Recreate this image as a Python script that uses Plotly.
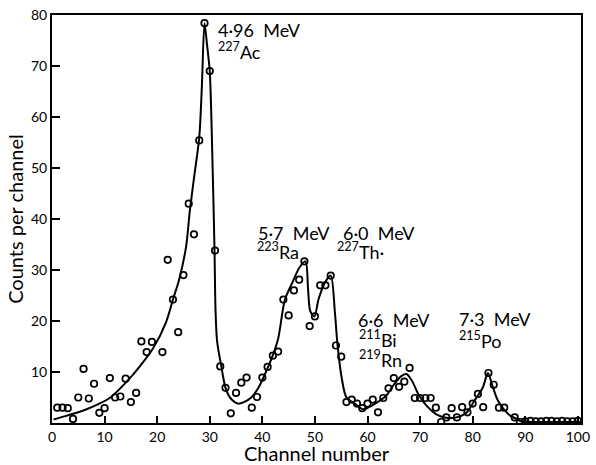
import plotly.graph_objects as go

# measured points (channel, counts per channel)
channels = [1, 2, 3, 4, 5, 6, 7, 8, 9, 10, 11, 12, 13, 14, 15, 16, 17, 18, 19, 21,
            22, 23, 24, 25, 26, 27, 28, 29, 30, 31, 32, 33, 34, 35, 36, 37, 38, 39, 40,
            41, 42, 43, 44, 45, 46, 47, 48, 49, 50, 51, 52, 53, 54, 55, 56, 57, 58, 59,
            60, 61, 62, 63, 64, 65, 66, 67, 68, 69, 70, 71, 72, 73, 74, 75, 76, 77, 78,
            79, 80, 81, 82, 83, 84, 85, 86, 88, 89, 90, 91, 92, 93, 94, 95, 96, 97, 98,
            99, 100]
counts = [3.0, 3.0, 2.9, 0.8, 5.0, 10.6, 4.8, 7.7, 2.0, 2.9, 8.8, 5.0, 5.2, 8.7, 4.1, 5.9,
          16.0, 13.9, 15.9, 13.9, 32.0, 24.2, 17.8, 29.0, 43.0, 37.0, 55.4, 78.4, 69.0,
          33.8, 11.1, 6.9, 1.9, 5.9, 7.9, 8.9, 3.0, 5.1, 8.9, 11.0, 13.2, 14.0, 24.2, 21.1,
          26.0, 28.1, 31.7, 19.0, 20.9, 27.0, 27.0, 28.9, 15.2, 13.0, 4.1, 4.6, 3.8, 2.9,
          3.8, 4.6, 2.1, 4.9, 6.8, 8.8, 7.1, 8.1, 10.8, 4.9, 4.9, 4.9, 4.9, 3.0, 0.2, 1.1,
          2.9, 1.1, 3.1, 2.1, 3.8, 5.7, 3.1, 9.8, 7.5, 3.0, 3.0, 1.1, 0.2, 0.3, 0.4, 0.3,
          0.3, 0.4, 0.4, 0.3, 0.4, 0.3, 0.3, 0.4, 0.7]

# fitted curve
curve_x = [0.3, 3.0, 6.1, 9.0, 11.1, 14.3, 16.7, 19.2, 21.7, 23.0, 24.2, 25.5, 26.2, 27.0,
           28.0, 28.5, 29.0, 29.5, 30.0, 30.5, 30.9, 31.1, 31.4, 32.2, 33.0, 34.0, 35.4,
           36.5, 37.9, 39.2, 40.2, 42.0, 43.0, 44.3, 45.7, 47.0, 48.2, 48.7, 49.1, 49.9,
           50.7, 51.9, 53.0, 53.8, 54.3, 55.1, 56.0, 57.6, 59.1, 60.1, 61.3, 63.5, 65.0,
           66.3, 67.4, 68.5, 69.7, 71.3, 73.1, 74.7, 76.9, 78.7, 80.3, 81.9, 82.9, 83.7,
           84.7, 85.9, 87.2, 88.4, 89.3, 95.0, 100.6]
curve_y = [0.7, 1.5, 2.5, 3.8, 5.0, 8.2, 11.1, 14.6, 19.8, 24.2, 28.2, 34.6, 41.5, 48.0,
           56.0, 66.0, 78.4, 74.0, 69.0, 52.0, 34.0, 22.0, 16.0, 11.1, 6.9, 4.8, 3.8,
           4.1, 5.0, 6.8, 8.9, 13.3, 16.5, 24.2, 27.5, 30.4, 31.7, 26.2, 22.0, 20.9,
           24.3, 27.5, 28.9, 21.7, 15.3, 8.8, 5.0, 3.8, 2.7, 3.0, 3.7, 5.3, 7.5,
           9.1, 9.6, 8.2, 5.6, 3.3, 1.7, 1.1, 1.1, 1.9, 4.3, 6.9, 9.8, 7.5,
           4.6, 2.7, 1.4, 0.8, 0.3, 0.2, 0.2]

x_ticks = [0, 10, 20, 30, 40, 50, 60, 70, 80, 90, 100]
y_ticks = [10, 20, 30, 40, 50, 60, 70, 80]

# peak labels: (x, y, text)
label_x = [31.4, 31.4, 38.9, 38.7, 55.2, 54.0, 58.0, 58.2, 58.2, 77.2, 77.2]
label_y = [77.1, 72.9, 37.3, 33.8, 37.3, 33.8, 20.1, 16.4, 12.6, 20.3, 16.2]
label_text = ["4·96  MeV", "<sup>227</sup>Ac", "5·7  MeV", "<sup>223</sup>Ra",
              "6·0  MeV", "<sup>227</sup>Th·", "6·6  MeV", "<sup>211</sup>Bi",
              "<sup>219</sup>Rn", "7·3  MeV", "<sup>215</sup>Po"]

FONT = "Lato"

fig = go.Figure()
fig.add_trace(go.Scatter(x=curve_x, y=curve_y, mode="lines",
                         line=dict(color="black", width=2, shape="spline", smoothing=0.8),
                         hoverinfo="skip", showlegend=False))
fig.add_trace(go.Scatter(x=channels, y=counts, mode="markers",
                         marker=dict(symbol="circle-open", size=6.5, color="black",
                                     line=dict(width=1.7, color="black")),
                         showlegend=False))

for lx, ly, lt in zip(label_x, label_y, label_text):
    fig.add_annotation(x=lx, y=ly, text=lt, showarrow=False, xanchor="left",
                       yanchor="middle", borderpad=0,
                       font=dict(family=FONT, size=18, color="black"))

fig.update_layout(
    width=596, height=465,
    margin=dict(l=52, r=6, t=15, b=36),
    paper_bgcolor="white", plot_bgcolor="white",
    font=dict(family=FONT, color="black"),
    xaxis=dict(range=[0, 100.6], tickvals=x_ticks, ticks="inside", ticklen=7,
               tickwidth=1.5, tickcolor="black", showline=True, linecolor="black",
               linewidth=2, mirror=True, showgrid=False, zeroline=False,
               ticklabeloverflow="allow",
               tickfont=dict(size=14), title=dict(text="Channel number",
               font=dict(size=20), standoff=0)),
    yaxis=dict(range=[0, 80], tickvals=y_ticks, ticks="inside", ticklen=8,
               tickwidth=1.5, tickcolor="black", showline=True, linecolor="black",
               linewidth=2, mirror=True, showgrid=False, zeroline=False,
               tickfont=dict(size=14), title=dict(text="Counts per channel",
               font=dict(size=20), standoff=2)),
)

fig.write_html("out.html")
